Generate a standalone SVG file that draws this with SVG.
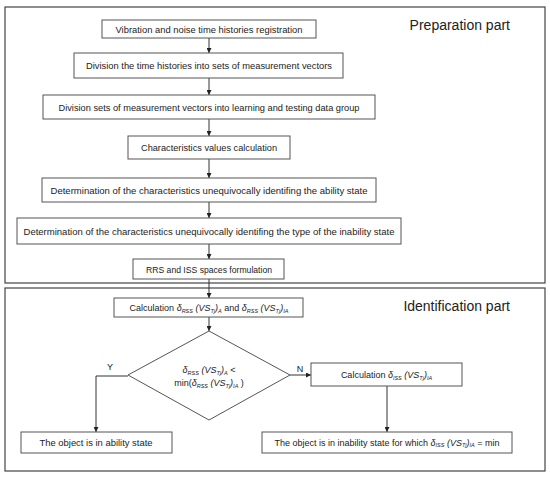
<svg xmlns="http://www.w3.org/2000/svg" width="550" height="477" viewBox="0 0 550 477">
<style>
.frame{fill:none;stroke:#444;stroke-width:1.2}
.box{fill:#fff;stroke:#555;stroke-width:1}
.t{font-family:"Liberation Sans",Arial,sans-serif;font-size:9px;fill:#222;text-anchor:middle}
.m{font-family:"Liberation Sans",Arial,sans-serif;font-size:9px;fill:#222;text-anchor:middle}
.i{font-style:italic}
.s{font-size:5.5px;font-style:italic}
.title{font-family:"Liberation Sans",Arial,sans-serif;font-size:14px;fill:#222}
.c{fill:none;stroke:#333;stroke-width:1}
</style>
<defs>
<marker id="arr" viewBox="0 0 6 6" refX="6" refY="3" markerWidth="5" markerHeight="5" orient="auto" markerUnits="userSpaceOnUse">
<path d="M0,0 L6,3 L0,6 Z" fill="#222"/>
</marker>
</defs>
<rect width="550" height="477" fill="#fff"/>
<g id="frames">
<rect class="frame" x="5" y="7" width="540" height="276"/>
<rect class="frame" x="5" y="288" width="540" height="183"/>
<text class="title" x="510" y="30" text-anchor="end">Preparation part</text>
<text class="title" x="510" y="311" text-anchor="end">Identification part</text>
</g>
<g id="connectors">
<line class="c" x1="209" y1="38" x2="209" y2="53" marker-end="url(#arr)"/>
<line class="c" x1="209" y1="78" x2="209" y2="95" marker-end="url(#arr)"/>
<line class="c" x1="209" y1="119" x2="209" y2="136" marker-end="url(#arr)"/>
<line class="c" x1="209" y1="159" x2="209" y2="178" marker-end="url(#arr)"/>
<line class="c" x1="209" y1="202" x2="209" y2="218" marker-end="url(#arr)"/>
<line class="c" x1="209" y1="244" x2="209" y2="259" marker-end="url(#arr)"/>
<line class="c" x1="209" y1="279" x2="209" y2="298" marker-end="url(#arr)"/>
<line class="c" x1="209" y1="317" x2="209" y2="331" marker-end="url(#arr)"/>
<polyline class="c" points="128,376 96,376 96,432" marker-end="url(#arr)"/>
<line class="c" x1="290" y1="375" x2="311" y2="375" marker-end="url(#arr)"/>
<line class="c" x1="387" y1="386" x2="387" y2="432" marker-end="url(#arr)"/>
<text class="t" x="110" y="370">Y</text>
<text class="t" x="300" y="372">N</text>
</g>
<g id="n1"><rect class="box" x="102" y="20" width="214" height="18"/><text class="t" x="209" y="32.5" textLength="187" lengthAdjust="spacingAndGlyphs">Vibration and noise time histories registration</text></g>
<g id="n2"><rect class="box" x="74" y="53" width="269" height="25"/><text class="t" x="209" y="69" textLength="246" lengthAdjust="spacingAndGlyphs">Division the time histories into sets of measurement  vectors</text></g>
<g id="n3"><rect class="box" x="43" y="95" width="332" height="24"/><text class="t" x="209" y="110.5" textLength="301" lengthAdjust="spacingAndGlyphs">Division sets of measurement  vectors into learning and testing data group</text></g>
<g id="n4"><rect class="box" x="128" y="136" width="162" height="23"/><text class="t" x="209" y="151" textLength="136" lengthAdjust="spacingAndGlyphs">Characteristics values calculation</text></g>
<g id="n5"><rect class="box" x="42" y="178" width="334" height="24"/><text class="t" x="209" y="193.5" textLength="317" lengthAdjust="spacingAndGlyphs">Determination of the characteristics unequivocally  identifing the ability state</text></g>
<g id="n6"><rect class="box" x="17" y="218" width="384" height="26"/><text class="t" x="209" y="234.5" textLength="371" lengthAdjust="spacingAndGlyphs">Determination of the characteristics unequivocally  identifing the type of the inability state</text></g>
<g id="n7"><rect class="box" x="133" y="259" width="151" height="20"/><text class="t" x="209" y="272.5" textLength="126" lengthAdjust="spacingAndGlyphs">RRS and ISS spaces formulation</text></g>
<g id="n8"><rect class="box" x="114" y="298" width="189" height="19"/>
<text class="m" x="209" y="311">Calculation <tspan class="i">δ</tspan><tspan class="s" dy="1.5">RSS</tspan><tspan class="i" dy="-1.5"> (VS</tspan><tspan class="s" dy="1.5">Tj</tspan><tspan class="i" dy="-1.5">)</tspan><tspan class="s" dy="1.5">A</tspan><tspan dy="-1.5"> and </tspan><tspan class="i">δ</tspan><tspan class="s" dy="1.5">RSS</tspan><tspan class="i" dy="-1.5"> (VS</tspan><tspan class="s" dy="1.5">Tj</tspan><tspan class="i" dy="-1.5">)</tspan><tspan class="s" dy="1.5">IA</tspan></text></g>
<g id="n9"><polygon class="box" points="209,331 290,375 209,420 128,375"/>
<text class="m" x="209" y="373"><tspan class="i">δ</tspan><tspan class="s" dy="1.5">RSS</tspan><tspan class="i" dy="-1.5"> (VS</tspan><tspan class="s" dy="1.5">Tj</tspan><tspan class="i" dy="-1.5">)</tspan><tspan class="s" dy="1.5">A</tspan><tspan dy="-1.5"> &lt;</tspan></text>
<text class="m" x="209" y="386">min(<tspan class="i">δ</tspan><tspan class="s" dy="1.5">RSS</tspan><tspan class="i" dy="-1.5"> (VS</tspan><tspan class="s" dy="1.5">Tj</tspan><tspan class="i" dy="-1.5">)</tspan><tspan class="s" dy="1.5">IA</tspan><tspan dy="-1.5"> )</tspan></text></g>
<g id="n10"><rect class="box" x="311" y="363" width="151" height="23"/>
<text class="m" x="386.5" y="378">Calculation <tspan class="i">δ</tspan><tspan class="s" dy="1.5">ISS</tspan><tspan class="i" dy="-1.5"> (VS</tspan><tspan class="s" dy="1.5">Tj</tspan><tspan class="i" dy="-1.5">)</tspan><tspan class="s" dy="1.5">IA</tspan></text></g>
<g id="n11"><rect class="box" x="21" y="432" width="151" height="21"/><text class="t" x="96" y="445.5" textLength="113" lengthAdjust="spacingAndGlyphs">The object is in ability state</text></g>
<g id="n12"><rect class="box" x="262" y="432" width="250" height="21"/>
<text class="m" x="387" y="445.5">The object is in inability state for which  <tspan class="i">δ</tspan><tspan class="s" dy="1.5">ISS</tspan><tspan class="i" dy="-1.5"> (VS</tspan><tspan class="s" dy="1.5">Tj</tspan><tspan class="i" dy="-1.5">)</tspan><tspan class="s" dy="1.5">IA</tspan><tspan dy="-1.5"> = min</tspan></text></g>
</svg>
